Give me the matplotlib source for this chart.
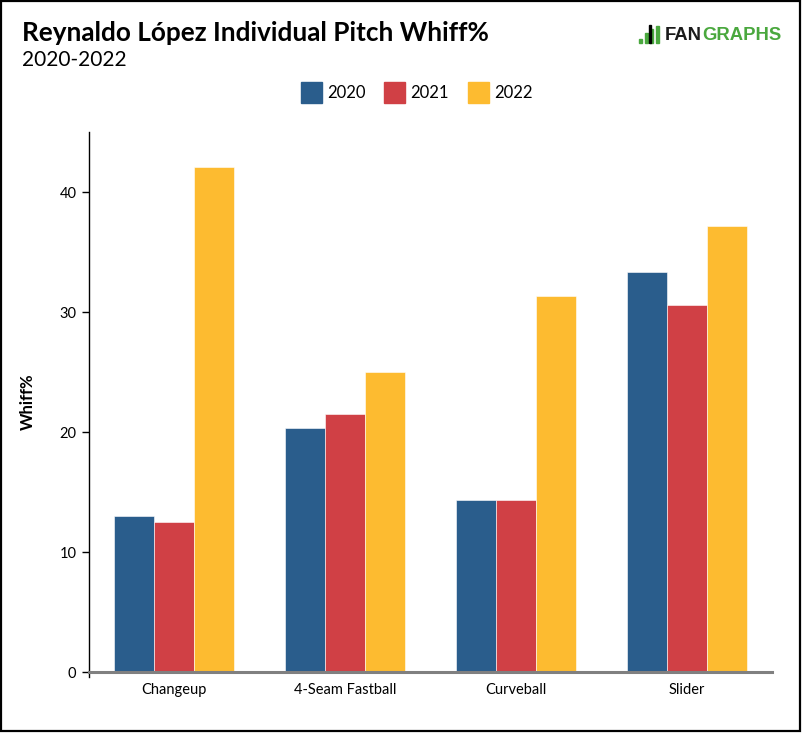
import matplotlib.pyplot as plt
import numpy as np
from matplotlib.patches import Rectangle

pitches = ["Changeup", "4-Seam Fastball", "Curveball", "Slider"]
years = ["2020", "2021", "2022"]
whiff_2020 = [13.0, 20.3, 14.3, 33.3]
whiff_2021 = [12.5, 21.5, 14.3, 30.6]
whiff_2022 = [42.1, 25.0, 31.3, 37.2]
colors = ["#2a5d8c", "#d04045", "#fdbb30"]
y_ticks = [0, 10, 20, 30, 40]

plt.rcParams["font.family"] = ["Lato", "DejaVu Sans"]

W, H = 802, 733
fig = plt.figure(figsize=(W / 100, H / 100), dpi=100)
fig.patch.set_facecolor("white")

# axes in pixel coords: x 89..772, y 132..672
ax = fig.add_axes([89 / W, 1 - 672 / H, (772 - 89) / W, (672 - 132) / H])

x = np.arange(len(pitches))
bw = 0.234
for i, (vals, c) in enumerate(zip([whiff_2020, whiff_2021, whiff_2022], colors)):
    ax.bar(x + (i - 1) * bw, vals, bw, color=c, edgecolor="white", linewidth=0.4,
           label=years[i], zorder=2)

ax.set_xlim(-0.5, 3.5)
ax.set_ylim(0, 45)
ax.set_xticks(x)
ax.set_xticklabels(pitches, fontsize=10.5)
ax.set_yticks(y_ticks)
ax.set_yticklabels([str(t) for t in y_ticks], fontsize=10.5)
ax.tick_params(axis="x", length=0, pad=8)
ax.tick_params(axis="y", length=5, width=1, pad=4)
for s in ["top", "right"]:
    ax.spines[s].set_visible(False)
ax.spines["bottom"].set_color("#808080")
ax.spines["bottom"].set_linewidth(2.2)
ax.spines["bottom"].set_zorder(3)
ax.spines["left"].set_linewidth(1)
ax.spines["left"].set_bounds(-0.4, 45)
ax.set_ylabel("Whiff%", fontsize=12, fontweight="bold", labelpad=17)

# title and subtitle
fig.text(22 / W, 1 - 33 / H, "Reynaldo López Individual Pitch Whiff%", fontsize=18.8,
         fontweight="bold", va="center", ha="left")
fig.text(22 / W, 1 - 60 / H, "2020-2022", fontsize=15, va="center", ha="left")

# legend
leg_x = [301, 384, 468]
for lx, c, yr in zip(leg_x, colors, years):
    fig.patches.append(Rectangle((lx / W, 1 - 103 / H), 21 / W, 21 / H, color=c,
                                 transform=fig.transFigure, figure=fig))
    fig.text((lx + 26) / W, 1 - 93 / H, yr, fontsize=12, va="center", ha="left")

# FanGraphs logo
green = "#4aa83e"
bar_h = [4, 10, 14, 17]
for k, bh in enumerate(bar_h):
    fig.patches.append(Rectangle(((639 + k * 5.5) / W, 1 - 43 / H), 3.2 / W, bh / H,
                                 color=green, transform=fig.transFigure, figure=fig))
fig.patches.append(Rectangle((649 / W, 1 - 43 / H), 2.2 / W, 18 / H, color="black",
                             transform=fig.transFigure, figure=fig))
t1 = fig.text(665 / W, 1 - 35.5 / H, "FAN", fontsize=13.3, fontweight="bold",
              family=["Liberation Sans"], color="#1a1a1a", va="center", ha="left")
fig.canvas.draw()
bb = t1.get_window_extent()
fig.text(bb.x1 / W, 1 - 35.5 / H, "GRAPHS", fontsize=13.3, fontweight="bold",
         family=["Liberation Sans"], color=green, va="center", ha="left")

# outer border
fig.patches.append(Rectangle((1 / W, 2 / H), (W - 3) / W, (H - 3) / H, fill=False,
                             edgecolor="black", linewidth=1.6,
                             transform=fig.transFigure, figure=fig))

fig.savefig("out.png", dpi=100)
